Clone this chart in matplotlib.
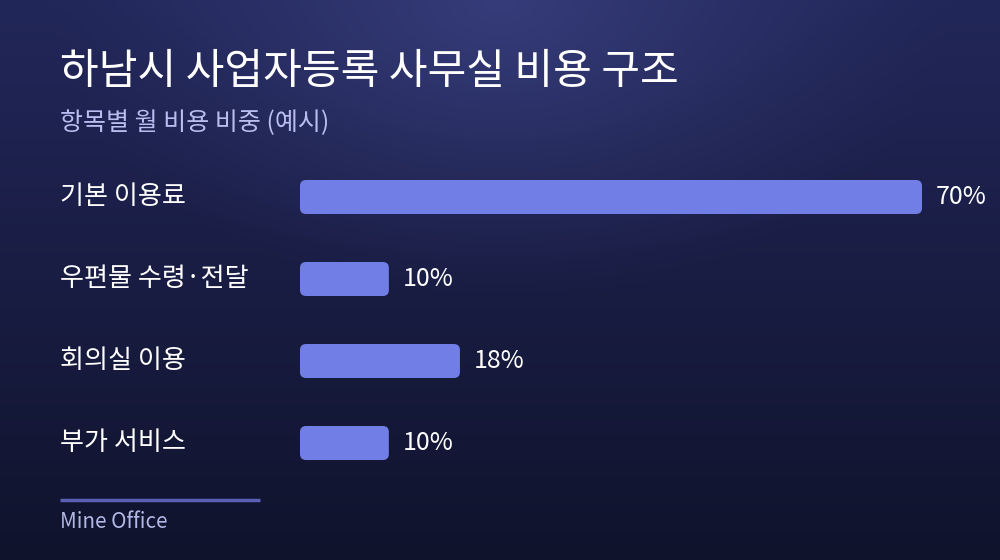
import numpy as np
import matplotlib
matplotlib.use("Agg")
import matplotlib.pyplot as plt
from matplotlib.patches import FancyBboxPatch

plt.rcParams['font.family'] = ['Noto Sans CJK KR', 'DejaVu Sans']

# data
title = "하남시 사업자등록 사무실 비용 구조"
subtitle = "항목별 월 비용 비중 (예시)"
categories = ["기본 이용료", "우편물 수령·전달", "회의실 이용", "부가 서비스"]
shares = [70, 10, 18, 10]
source = "Mine Office"

W, H = 1000, 560
fig = plt.figure(figsize=(W / 100, H / 100), dpi=100)

# background: vertical gradient + glow at top centre
yy, xx = np.mgrid[0:H, 0:W]
top = np.array([0x22, 0x27, 0x5a]) / 255
bot = np.array([0x10, 0x13, 0x2c]) / 255
t = (yy / (H - 1))[..., None]
bg = top * (1 - t) + bot * t
glow_col = np.array([0x36, 0x3c, 0x79]) / 255
d = np.sqrt(((xx - 500) / 450.0) ** 2 + (yy / 300.0) ** 2)
g = np.clip(1 - d, 0, 1)[..., None] ** 1.2
bg = bg * (1 - g) + glow_col * g
bgax = fig.add_axes([0, 0, 1, 1])
bgax.imshow(bg, extent=[0, W, H, 0], aspect='auto')
bgax.set_xlim(0, W)
bgax.set_ylim(H, 0)
bgax.axis('off')

# titles
bgax.text(60, 72, title, color='white', fontsize=30.3, fontweight='medium', va='center', ha='left')
bgax.text(60, 123, subtitle, color='#b9bdf0', fontsize=18, va='center', ha='left')

# footer
bgax.plot([60, 260], [500, 500], color='#5b60b4', lw=2.5, solid_capstyle='butt')
bgax.text(60, 522, source, color='#b3b9e6', fontsize=14.8, va='center', ha='left')

# bars
bar_color = '#717ee6'
ax = fig.add_axes([0.300, 1 - 484 / H, 0.622, 328 / H])
ax.set_xlim(0, 70)
ax.set_ylim(len(categories) - 0.5, -0.5)
ax.axis('off')
ypos = np.arange(len(categories))
bars = ax.barh(ypos, shares, height=34 / 82, color=bar_color)
rx = 6 * 70 / 622
ry = 6 / 82
for b in bars:
    x0, y0 = b.get_x(), b.get_y()
    w, h = b.get_width(), b.get_height()
    b.set_visible(False)
    p = FancyBboxPatch((x0, y0), w, h,
                       boxstyle="round,pad=0,rounding_size=%f" % rx,
                       mutation_aspect=ry / rx,
                       facecolor=bar_color, edgecolor='none')
    ax.add_patch(p)

for y, v, c in zip(ypos, shares, categories):
    ax.annotate("%d%%" % v, (v, y), xytext=(14, 0), textcoords='offset pixels',
                color='white', fontsize=18, va='center', ha='left', annotation_clip=False)
    ax.annotate(c, (0, y), xycoords=('figure pixels', 'data'), xytext=(60, 0),
                textcoords=('figure pixels', 'offset pixels'),
                color='white', fontsize=18.8, va='center', ha='left', annotation_clip=False)

fig.savefig('out.png', dpi=100)
